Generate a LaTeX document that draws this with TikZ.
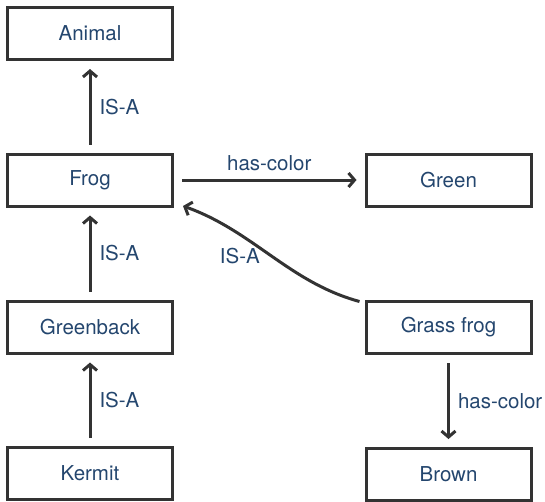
\documentclass[tikz,border=0pt]{standalone}
\usepackage{fontspec}
\setmainfont{TeX Gyre Heros}
\usetikzlibrary{arrows.meta}
\definecolor{textblue}{HTML}{24466E}
\definecolor{linegray}{HTML}{333333}
\tikzset{
  concept/.style={draw=linegray, line width=3pt, minimum width=165pt, minimum height=52pt,
    inner sep=0pt, text=textblue, font=\fontsize{20.5}{24}\selectfont},
  rel/.style={draw=linegray, line width=3pt,
    -{Straight Barb[length=6pt,width=14pt,line width=3pt]},
    shorten <=8pt, shorten >=8pt},
  lbl/.style={text=textblue, inner sep=0pt, font=\fontsize{20.5}{24}\selectfont}
}
\begin{document}
\begin{tikzpicture}[x=1pt,y=-1pt]
  \useasboundingbox (0,0) rectangle (545,501);
  % left column: the IS-A chain
  \node[concept] (animal)    at (90,33.5)  {Animal};
  \node[concept] (frog)      at (90,180)   {Frog};
  \node[concept] (greenback) at (90,327)   {Greenback};
  \node[concept] (kermit)    at (90,473.5) {Kermit};
  % right column
  \node[concept] (green)     at (448.5,180)   {Green};
  \node[concept] (grassfrog) at (448.5,327.5) {Grass frog};
  \node[concept] (brown)     at (448.5,474.5) {Brown};

  \draw[rel] (frog) -- node[lbl, midway, right=8pt] {IS-A} (animal);
  \draw[rel] (greenback) -- node[lbl, midway, right=8pt] {IS-A} (frog);
  \draw[rel] (kermit) -- node[lbl, midway, right=8pt] {IS-A} (greenback);
  \draw[rel] (frog) -- node[lbl, midway, above=8pt] {has-color} (green);
  \draw[rel] (grassfrog) -- node[lbl, midway, right=8pt] {has-color} (brown);

  % curved IS-A link from Grass frog back to Frog
  \coordinate (gfstart) at ([shift={(-5,1.5)}]grassfrog.north west);
  \coordinate (frogtip) at ([shift={(9,-1.5)}]frog.south east);
  \draw[draw=linegray, line width=3pt, -{Straight Barb[length=6pt,width=14pt,line width=3pt]}]
    (gfstart) .. controls +(-70,-19) and +(70,25) .. node[lbl, pos=0.5, left=10pt] {IS-A} (frogtip);
\end{tikzpicture}
\end{document}
